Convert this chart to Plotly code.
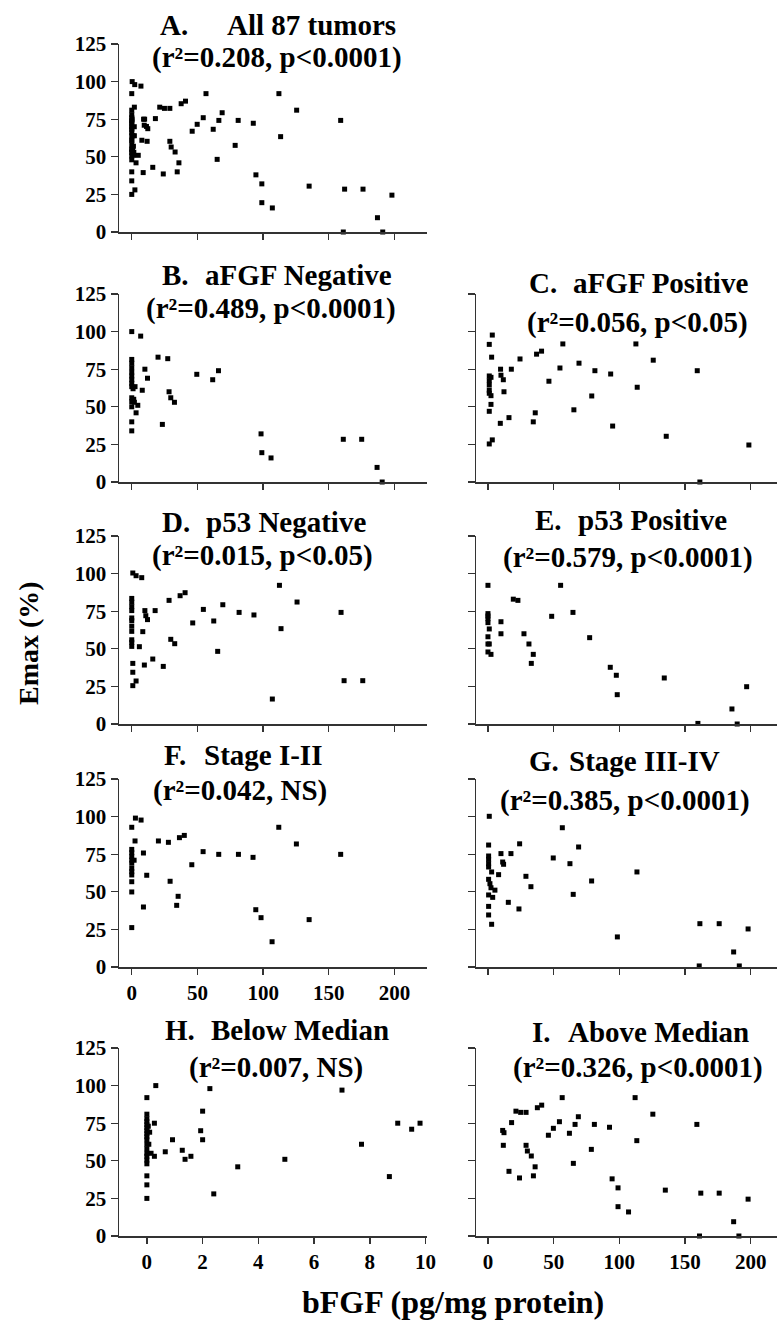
import plotly.graph_objects as go

# ---------------- data (bFGF pg/mg protein, Emax %) ----------------
# H. Below median
h_x = [0.32, 2.26, 7.0, 0.0, 2.0, 0.0, 0.0, 0.27, 0.0, 0.0, 0.05, 0.0, 0.0, 1.93, 0.1,
       0.0, 0.0, 0.0, 0.92, 2.0, 0.07, 0.0, 7.7, 0.0, 1.27, 0.66, 0.15, 0.0, 0.27, 1.58,
       0.0, 1.37, 4.95, 0.0, 0.0, 3.26, 0.0, 8.7, 0.0, 2.4, 0.0, 9.0, 9.5, 9.8]
h_y = [100, 98, 97, 92, 83, 81, 78, 75, 76, 74, 73, 72, 70, 70, 69,
       68, 66, 64, 64, 64, 61, 61, 61, 58, 57, 56, 55, 55, 53, 53,
       53, 51, 51, 50.5, 48, 46, 40, 39.5, 34, 28, 25, 75, 71, 75]

# I. Above median
i_x = [12.2, 11.2, 11.7, 18, 16, 21.3, 24.9, 29, 37.6, 40.9, 29, 30, 33, 35.9, 34.6,
       24, 46, 49.8, 54.4, 56.5, 62, 66.3, 68.8, 78.7, 65, 81, 92.5, 94.5, 112, 113.3,
       125.5, 159, 99, 99, 107, 135, 162, 161, 176, 187, 191, 198]
i_y = [68.7, 70.2, 60.3, 75.4, 43, 83, 82.2, 82.2, 85.3, 87, 60.3, 56.5, 53.2, 46, 40,
       38.6, 67, 71.6, 76, 92, 68.3, 74.2, 79.3, 57.6, 48.3, 74.2, 72.3, 38, 92, 63.4,
       81, 74.2, 32, 19.5, 16, 30.5, 28.5, 0, 28.5, 9.5, 0, 24.5]

# A. All tumors = below median + above median
a_x = h_x + i_x
a_y = h_y + i_y

# B. aFGF negative
b_x = [0, 6.8, 0, 0, 0, 0, 0, 0, 0, 0, 0, 0, 0, 1, 1.5, 2,
       2.5, 4.6, 3.3, 0, 0, 10, 12, 8, 20, 27.4, 28.4, 29.7, 32.5, 23.3,
       49.5, 61.6, 66, 98.4, 99, 106, 161, 175, 186.7, 190.6]
b_y = [100, 97, 81.5, 79, 76, 73, 70.5, 68, 65.6, 63.4, 56, 53.4, 50, 62, 55, 53,
       63.4, 51, 46, 40, 34, 75, 69, 61, 83, 82, 60, 56, 53, 38.3,
       71.6, 68, 74, 32, 19.5, 16, 28.4, 28.4, 9.7, 0]

# C. aFGF positive
c_x = [3.3, 1, 2.8, 1, 2.3, 1, 1, 1, 1, 2.3, 2.3, 1, 1, 3.3,
       9.6, 9.9, 11.7, 12.2, 17.8, 24.4, 9.4, 16, 34.5, 36, 37, 40.8, 46.4, 54.8,
       57, 69.3, 65.4, 79, 81.4, 93.4, 94.9, 112.6, 113.6, 125.8, 135.7, 159.3, 198.6, 161.3]
c_y = [97.7, 91.5, 83, 70.5, 69.6, 67.4, 64.5, 61, 59, 57.4, 51.6, 47, 25.3, 28,
       75, 71, 68, 60, 75, 81.8, 39, 42.8, 40, 46, 85, 87, 67, 75.8,
       91.8, 79, 48, 57.2, 74, 71.8, 37.2, 91.8, 63, 81, 30.4, 74, 24.6, 0]

# D. p53 negative
d_x = [0.8, 3.3, 7.6, 0, 0, 0, 0, 0, 0, 0, 0, 0, 0, 0,
       10, 17.8, 10.7, 12, 8.4, 5.8, 0.8, 9.6, 16, 0.8, 3.3, 0.8,
       28.4, 36.8, 40.6, 29.7, 32.7, 24, 46.4, 54.5, 62.4, 69.3, 65.4, 81.7, 93,
       112.4, 113.6, 125.8, 159.3, 161.6, 175.8, 107]
d_y = [100.4, 98.6, 97.3, 83.5, 81, 78, 75.4, 70.5, 68.7, 65, 61.6, 56, 54.3, 51.6,
       75.4, 75.4, 72, 69.4, 61.4, 51.4, 40.3, 39.2, 43.2, 34.4, 28.6, 25.5,
       82.2, 85.3, 87.3, 56.3, 53.4, 38.3, 67.2, 76.2, 68.5, 79.3, 48.3, 74.2, 72.5,
       92.2, 63.4, 81.1, 74.2, 28.8, 28.8, 16.6]

# E. p53 positive
e_x = [0, 0, 0, 0, 0, 1, 9.9, 9.9, 0, 0, 1, 0, 2.3,
       19.3, 22.8, 27.4, 31.2, 34.5, 33, 48.5, 55.3, 64.7, 77.4, 93.1, 97.7,
       134.2, 196.9, 98.4, 185.7, 159.8, 189.7]
e_y = [92.2, 73.4, 71.8, 70, 67.4, 63.2, 68, 60, 58, 53.2, 53.2, 47.9, 46.3,
       83, 82.2, 60, 53.2, 46.3, 40.3, 71.6, 92.2, 74.2, 57.4, 37.7, 32.4,
       30.6, 24.8, 19.5, 10, 0.4, 0]

# F. Stage I-II
f_x = [2.8, 7.1, 0, 2.5, 0, 0, 0, 0, 0, 0, 0, 0, 0, 1.8,
       8.9, 11.4, 0, 8.9, 0, 20.3, 27.9, 36.3, 40, 29.2, 35.3, 34.2,
       45.7, 54.3, 66.2, 81.2, 92.3, 94.4, 98.4, 111.9, 125.3, 135, 159, 106.8]
f_y = [99, 97.7, 92.9, 83.8, 78.2, 76, 73.4, 71.1, 69, 65.6, 63.4, 61.2, 56.7, 71,
       75.8, 61, 49.9, 39.9, 26.2, 83.8, 82.9, 86, 87.5, 57, 47, 41,
       68, 76.7, 74.9, 74.9, 72.9, 38.1, 32.8, 92.9, 81.8, 31.5, 74.9, 16.8]

# G. Stage III-IV
g_x = [1, 0.5, 0.5, 0.5, 0.5, 0.5, 2.8, 9.9, 17.5, 11.2, 11.9, 8.1, 0.5, 1.5,
       2.3, 5.3, 0.5, 3.6, 0.5, 15.5, 0.5, 23.6, 2.8, 24.1, 28.9, 32.7, 49.7,
       56.6, 62.4, 69, 64.9, 78.9, 113.4, 161.3, 176, 198, 160.8, 187, 191.3, 98.5]
g_y = [100.2, 81.1, 73.8, 71.6, 68.7, 66.5, 63.2, 75.4, 75.4, 69.8, 68.3, 61.4, 58.3, 55.4,
       52.7, 51.1, 47.9, 46.3, 40.3, 43, 34.6, 38.6, 28.4, 81.9, 60.3, 53.4, 72.5,
       92.6, 68.7, 79.8, 48.3, 57.2, 63.2, 28.8, 28.8, 25.3, 0.7, 10, 0.7, 20]

panel_letters = ["A.", "B.", "C.", "D.", "E.", "F.", "G.", "H.", "I."]
panel_names = ["All 87 tumors", "aFGF Negative", "aFGF Positive", "p53 Negative",
               "p53 Positive", "Stage I-II", "Stage III-IV", "Below Median", "Above Median"]
panel_stats = ["(r²=0.208, p<0.0001)", "(r²=0.489, p<0.0001)", "(r²=0.056, p<0.05)",
               "(r²=0.015, p<0.05)", "(r²=0.579, p<0.0001)", "(r²=0.042, NS)",
               "(r²=0.385, p<0.0001)", "(r²=0.007, NS)", "(r²=0.326, p<0.0001)"]

y_ticks = [0, 25, 50, 75, 100, 125]
x_ticks = [0, 50, 100, 150, 200]
h_ticks = [0, 2, 4, 6, 8, 10]

# ---------------- layout geometry (pixels) ----------------
W, H = 777, 1323
cols = {"L": (119, 427), "R": (476, 777)}
rows = [(44, 232), (294, 482), (536, 724), (779, 967), (1048, 1236)]

# data, column, row, x range, x ticks, show x labels, show y labels,
# title line 1: (letter left x, name left x, y), title line 2: (center x, y)
panels = [
    (a_x, a_y, "L", 0, [-9.7, 224.7], x_ticks, False, True, (158, 225, 25), (277, 58)),
    (b_x, b_y, "L", 1, [-9.7, 224.7], x_ticks, False, True, (160, 203, 275), (271, 308)),
    (c_x, c_y, "R", 1, [-9.1, 220], x_ticks, False, False, (527, 571, 283), (637, 323)),
    (d_x, d_y, "L", 2, [-9.7, 224.7], x_ticks, False, True, (160, 204, 522), (262, 555)),
    (e_x, e_y, "R", 2, [-9.1, 220], x_ticks, False, False, (533, 576, 520), (628, 557)),
    (f_x, f_y, "L", 3, [-9.7, 224.7], x_ticks, True, True, (162, 202, 755), (240, 790)),
    (g_x, g_y, "R", 3, [-9.1, 220], x_ticks, False, False, (527, 567, 761), (625, 800)),
    (h_x, h_y, "L", 4, [-1, 10.05], h_ticks, True, True, (163, 209, 1030), (276, 1067)),
    (i_x, i_y, "R", 4, [-9.1, 220], x_ticks, True, False, (530, 566, 1032), (638, 1067)),
]

FONT = "Liberation Serif, Times New Roman, serif"
title_font = dict(family=FONT, size=29, color="black", weight="bold")
fig = go.Figure()
annotations = []
layout = {}
for k, (xs, ys, col, row, xr, xt, showx, showy, t1, t2) in enumerate(panels, start=1):
    xa = "x" if k == 1 else f"x{k}"
    ya = "y" if k == 1 else f"y{k}"
    fig.add_trace(go.Scatter(
        x=xs, y=ys, mode="markers", xaxis=xa, yaxis=ya,
        marker=dict(symbol="square", size=5, color="black"),
        cliponaxis=False, showlegend=False, hoverinfo="skip"))
    c0, c1 = cols[col]
    r0, r1 = rows[row]
    axis_common = dict(showline=True, linecolor="#333", linewidth=1.5, showgrid=False,
                       zeroline=False, ticks="outside", tickcolor="#333", tickwidth=1.3,
                       automargin=False,
                       tickfont=dict(family=FONT, size=21, color="black", weight="bold"))
    layout["xaxis" if k == 1 else f"xaxis{k}"] = dict(
        domain=[c0 / W, c1 / W], range=xr, tickvals=xt, showticklabels=showx,
        ticklen=6, anchor=ya, fixedrange=True, **axis_common)
    layout["yaxis" if k == 1 else f"yaxis{k}"] = dict(
        domain=[1 - r1 / H, 1 - r0 / H], range=[0, 125], tickvals=y_ticks,
        showticklabels=showy, ticklen=7, anchor=xa, fixedrange=True, **axis_common)
    lx, nx, ty = t1
    for px, txt in ((lx, panel_letters[k - 1]), (nx, panel_names[k - 1])):
        annotations.append(dict(
            x=px / W, y=1 - ty / H, xref="paper", yref="paper", text=txt,
            showarrow=False, xanchor="left", yanchor="middle", font=title_font))
    annotations.append(dict(
        x=t2[0] / W, y=1 - t2[1] / H, xref="paper", yref="paper",
        text=panel_stats[k - 1].replace("<", "&lt;"),
        showarrow=False, xanchor="center", yanchor="middle", font=title_font))

annotations.append(dict(
    x=28 / W, y=1 - 643 / H, xref="paper", yref="paper", text="Emax (%)",
    textangle=-90, showarrow=False, xanchor="center", yanchor="middle",
    font=dict(family=FONT, size=28, color="black", weight="bold")))
annotations.append(dict(
    x=453 / W, y=1 - 1302 / H, xref="paper", yref="paper", text="bFGF (pg/mg protein)",
    showarrow=False, xanchor="center", yanchor="middle",
    font=dict(family=FONT, size=32, color="black", weight="bold")))

fig.update_layout(
    width=W, height=H, margin=dict(l=0, r=0, t=0, b=0, pad=0, autoexpand=False),
    paper_bgcolor="white", plot_bgcolor="white", hovermode=False,
    annotations=annotations, **layout)

fig.write_html("out.html",
               config={"displayModeBar": False, "staticPlot": True},
               post_script="document.body.style.margin='0';document.body.style.overflow='hidden';")
